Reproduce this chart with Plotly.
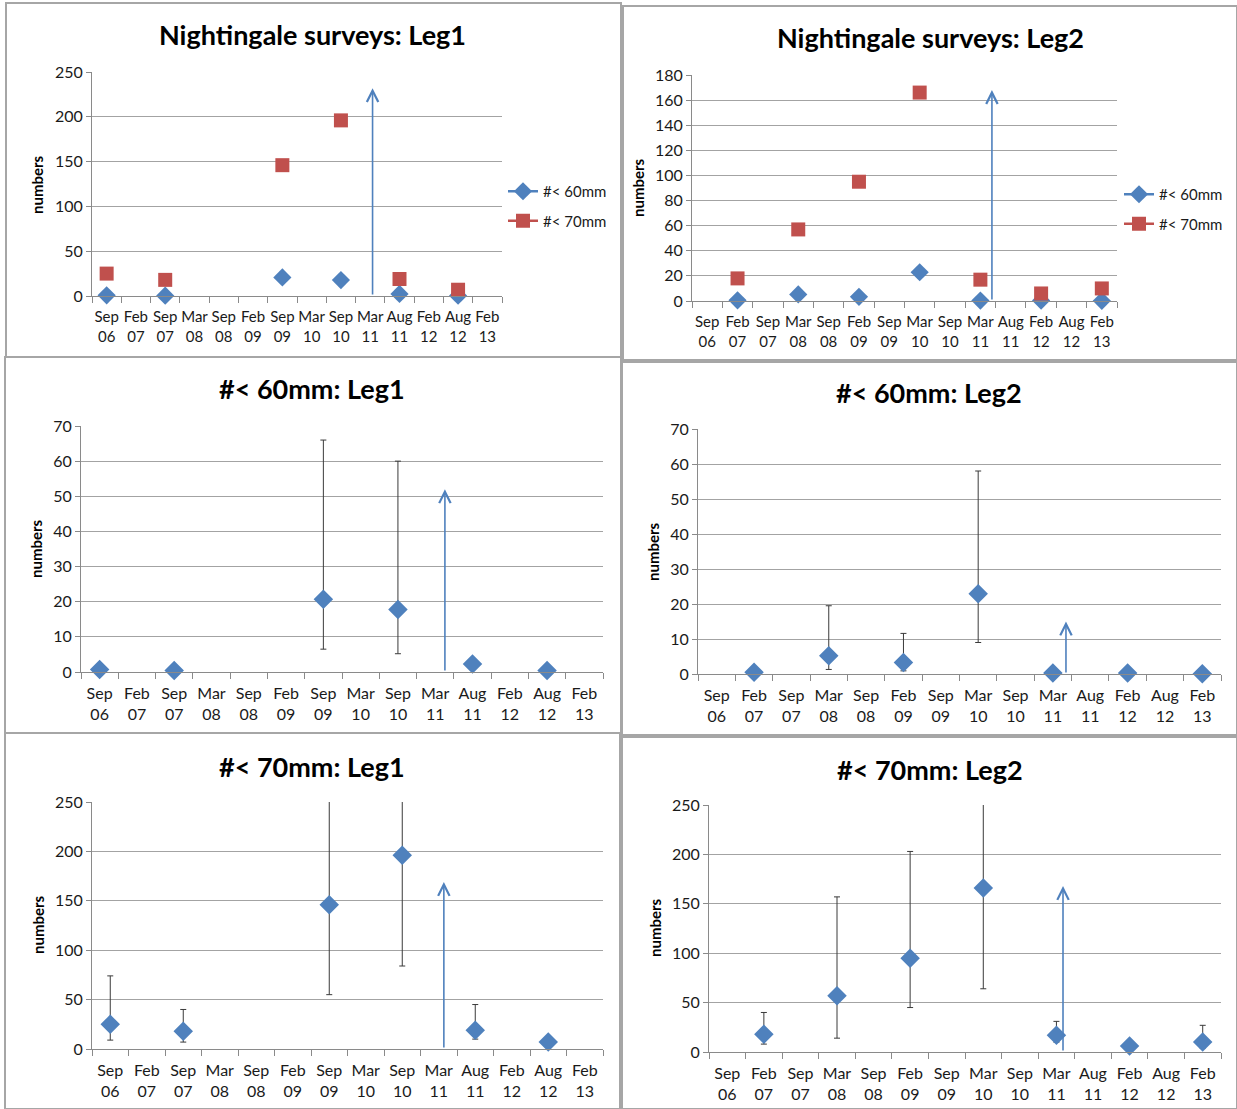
import plotly.graph_objects as go

# ---------------- data ----------------
categories = ["Sep 06", "Feb 07", "Sep 07", "Mar 08", "Sep 08", "Feb 09", "Sep 09",
              "Mar 10", "Sep 10", "Mar 11", "Aug 11", "Feb 12", "Aug 12", "Feb 13"]
tick_labels = [c.replace(" ", "<br>") for c in categories]

# Leg 1
leg1_60 = [0.7, None, 0.4, None, None, None, 20.7, None, 17.8, None, 2.3, None, 0.4, None]
leg1_60_hi = [None, None, None, None, None, None, 66, None, 60, None, None, None, None, None]
leg1_60_lo = [None, None, None, None, None, None, 6.5, None, 5.2, None, None, None, None, None]
leg1_70 = [25, None, 18, None, None, None, 146, None, 196, None, 19, None, 7, None]
leg1_70_hi = [74, None, 40, None, None, None, 280, None, 300, None, 45, None, 12, None]
leg1_70_lo = [9, None, 7, None, None, None, 55, None, 84, None, 10, None, 4, None]

# Leg 2
leg2_60 = [None, 0.5, None, 5.2, None, 3.3, None, 22.9, None, 0.3, None, 0.3, None, 0.1]
leg2_60_hi = [None, None, None, 19.5, None, 11.6, None, 58, None, None, None, None, None, None]
leg2_60_lo = [None, None, None, 1.3, None, 0.9, None, 9, None, None, None, None, None, None]
leg2_70 = [None, 18, None, 57, None, 95, None, 166, None, 17, None, 6, None, 10]
leg2_70_hi = [None, 40, None, 157, None, 203, None, 290, None, 31, None, None, None, 27]
leg2_70_lo = [None, 8, None, 14, None, 45, None, 64, None, 10, None, None, None, 4]

# event arrows (category position, top value) per panel
arrow_x = [9.08, 9.38, 9.26, 9.35, 9.14, 9.18]
arrow_top = [232, 168, 52, 15, 169, 168]

panel_titles = ["Nightingale surveys: Leg1", "Nightingale surveys: Leg2",
                "#< 60mm: Leg1", "#< 60mm: Leg2", "#< 70mm: Leg1", "#< 70mm: Leg2"]
y_ranges = [(0, 250, 50), (0, 180, 20), (0, 70, 10), (0, 70, 10), (0, 250, 50), (0, 250, 50)]
series_names = ["#< 60mm", "#< 70mm"]

# ---------------- layout geometry (pixels) ----------------
W, H = 1237, 1109
plot_px = [  # x0, x1, ytop, ybottom
    (92, 502, 72, 296),
    (692, 1117, 75, 301),
    (81, 603, 426, 672),
    (698, 1221, 429, 674),
    (92, 603, 802, 1049),
    (709, 1221, 805, 1052),
]
title_px = [(313, 35), (930, 38), (312, 389), (929, 392), (312, 766), (930, 769)]
ylab_px = [(37, 185), (638, 188), (36, 549), (653, 552), (38, 925), (655, 928)]
box_px = [(6, 3, 621, 357), (623, 6, 1237, 360), (5, 357, 621, 733),
          (622, 362, 1237, 735), (5, 733, 620, 1109), (622, 737, 1237, 1109)]
xtick_size = [15, 15, 16, 16, 16, 16]

BLUE = "#4F81BD"
RED = "#C0504D"
GRID = "#a3a3a3"
AXIS = "#8a8a8a"
FONT = "Lato"


def px_x(v):
    return v / W


def px_y(v):
    return 1 - v / H


fig = go.Figure()
x_idx = list(range(len(categories)))


def err_trace(vals, hi, lo, axn):
    ys, up, dn = [], [], []
    for v, h, l in zip(vals, hi, lo):
        if v is not None and h is not None:
            ys.append(v)
            up.append(h - v)
            dn.append(v - l)
        else:
            ys.append(None)
            up.append(0)
            dn.append(0)
    suffix = "" if axn == 1 else str(axn)
    return go.Scatter(x=x_idx, y=ys, mode="markers",
                      marker=dict(size=1, color="rgba(0,0,0,0)"),
                      error_y=dict(type="data", symmetric=False, array=up, arrayminus=dn,
                                   color="#3a3a3a", thickness=1, width=3),
                      xaxis="x" + suffix, yaxis="y" + suffix, showlegend=False,
                      cliponaxis=True, hoverinfo="skip")


# Panel 1 & 2: both series with legends
for axn, (s60, s70), leg in [(1, (leg1_60, leg1_70), "legend"), (2, (leg2_60, leg2_70), "legend2")]:
    suffix = "" if axn == 1 else str(axn)
    fig.add_trace(go.Scatter(x=x_idx, y=s60, mode="lines+markers", name=series_names[0],
                             line=dict(color=BLUE, width=2.5),
                             marker=dict(symbol="diamond", size=14, color=BLUE),
                             xaxis="x" + suffix, yaxis="y" + suffix, legend=leg,
                             legendgroup=f"a{axn}", cliponaxis=False))
    fig.add_trace(go.Scatter(x=x_idx, y=s70, mode="lines+markers", name=series_names[1],
                             line=dict(color=RED, width=2.5),
                             marker=dict(symbol="square", size=14, color=RED),
                             xaxis="x" + suffix, yaxis="y" + suffix, legend=leg,
                             legendgroup=f"b{axn}", cliponaxis=False))

# Panels 3-6: single series with error bars
for axn, vals, hi, lo in [(3, leg1_60, leg1_60_hi, leg1_60_lo), (4, leg2_60, leg2_60_hi, leg2_60_lo),
                          (5, leg1_70, leg1_70_hi, leg1_70_lo), (6, leg2_70, leg2_70_hi, leg2_70_lo)]:
    suffix = str(axn)
    fig.add_trace(err_trace(vals, hi, lo, axn))
    fig.add_trace(go.Scatter(x=x_idx, y=vals, mode="markers", showlegend=False,
                             marker=dict(symbol="diamond", size=15, color=BLUE),
                             xaxis="x" + suffix, yaxis="y" + suffix, cliponaxis=False))

layout = dict(width=W, height=H, margin=dict(l=0, r=0, t=0, b=0, pad=0),
              autosize=False,
              paper_bgcolor="white", plot_bgcolor="white",
              font=dict(family=FONT, size=15, color="#1a1a1a"))

annotations = []
shapes = []
boundaries = [i - 0.5 for i in range(len(categories) + 1)]
for i in range(6):
    n = i + 1
    sfx = "" if n == 1 else str(n)
    x0, x1, yt, yb = plot_px[i]
    y0, y1, dt = y_ranges[i]
    layout["xaxis" + sfx] = dict(
        domain=[px_x(x0), px_x(x1)], anchor="y" + sfx,
        range=[-0.5, len(categories) - 0.5],
        tickmode="array", tickvals=x_idx, ticktext=tick_labels, tickangle=0,
        ticks="outside", ticklen=7, tickcolor="rgba(0,0,0,0)",
        showgrid=False, zeroline=False, showline=True, linecolor=AXIS, linewidth=1,
        minor=dict(tickmode="array", tickvals=boundaries, ticks="outside", ticklen=6,
                   tickcolor=AXIS, showgrid=False),
        tickfont=dict(size=xtick_size[i], color="#1a1a1a"), fixedrange=True, automargin=False,
    )
    layout["yaxis" + sfx] = dict(
        domain=[px_y(yb), px_y(yt)], anchor="x" + sfx,
        range=[y0, y1], dtick=dt, tick0=0,
        ticks="outside", ticklen=5, tickcolor=AXIS,
        showgrid=True, gridcolor=GRID, gridwidth=1, zeroline=False,
        showline=True, linecolor=AXIS, linewidth=1,
        tickfont=dict(size=16, color="#1a1a1a"), fixedrange=True, automargin=False,
    )
    tx, ty = title_px[i]
    annotations.append(dict(text="<b>" + panel_titles[i] + "</b>", x=px_x(tx), y=px_y(ty),
                            xref="paper", yref="paper", showarrow=False,
                            xanchor="center", yanchor="middle",
                            font=dict(family=FONT, size=27, color="black")))
    lx, ly = ylab_px[i]
    annotations.append(dict(text="<b>numbers</b>", x=px_x(lx), y=px_y(ly),
                            xref="paper", yref="paper", showarrow=False, textangle=-90,
                            xanchor="center", yanchor="middle",
                            font=dict(family=FONT, size=15, color="black")))
    # event arrow
    annotations.append(dict(text="", x=arrow_x[i], y=arrow_top[i], ax=arrow_x[i], ay=0,
                            xref="x" + sfx, yref="y" + sfx, axref="x" + sfx, ayref="y" + sfx,
                            showarrow=True, arrowhead=5, arrowsize=1.4, arrowwidth=1.6,
                            arrowcolor=BLUE, standoff=0, startstandoff=0))
    bx0, by0, bx1, by1 = box_px[i]
    shapes.append(dict(type="rect", xref="paper", yref="paper",
                       x0=px_x(bx0), x1=px_x(bx1), y0=px_y(by1), y1=px_y(by0),
                       line=dict(color="#a6a6a6", width=2)))

layout["annotations"] = annotations
layout["shapes"] = shapes
layout["legend"] = dict(x=px_x(503), y=px_y(175), xanchor="left", yanchor="top",
                        bgcolor="rgba(0,0,0,0)", font=dict(size=15, color="#1a1a1a"),
                        traceorder="grouped", tracegroupgap=7, itemwidth=30)
layout["legend2"] = dict(x=px_x(1119), y=px_y(178), xanchor="left", yanchor="top",
                         bgcolor="rgba(0,0,0,0)", font=dict(size=15, color="#1a1a1a"),
                         traceorder="grouped", tracegroupgap=7, itemwidth=30)

fig.update_layout(**layout)
fig.write_html("out.html", config={"displayModeBar": False},
               post_script="document.body.style.margin='0';document.body.style.overflow='hidden';")
